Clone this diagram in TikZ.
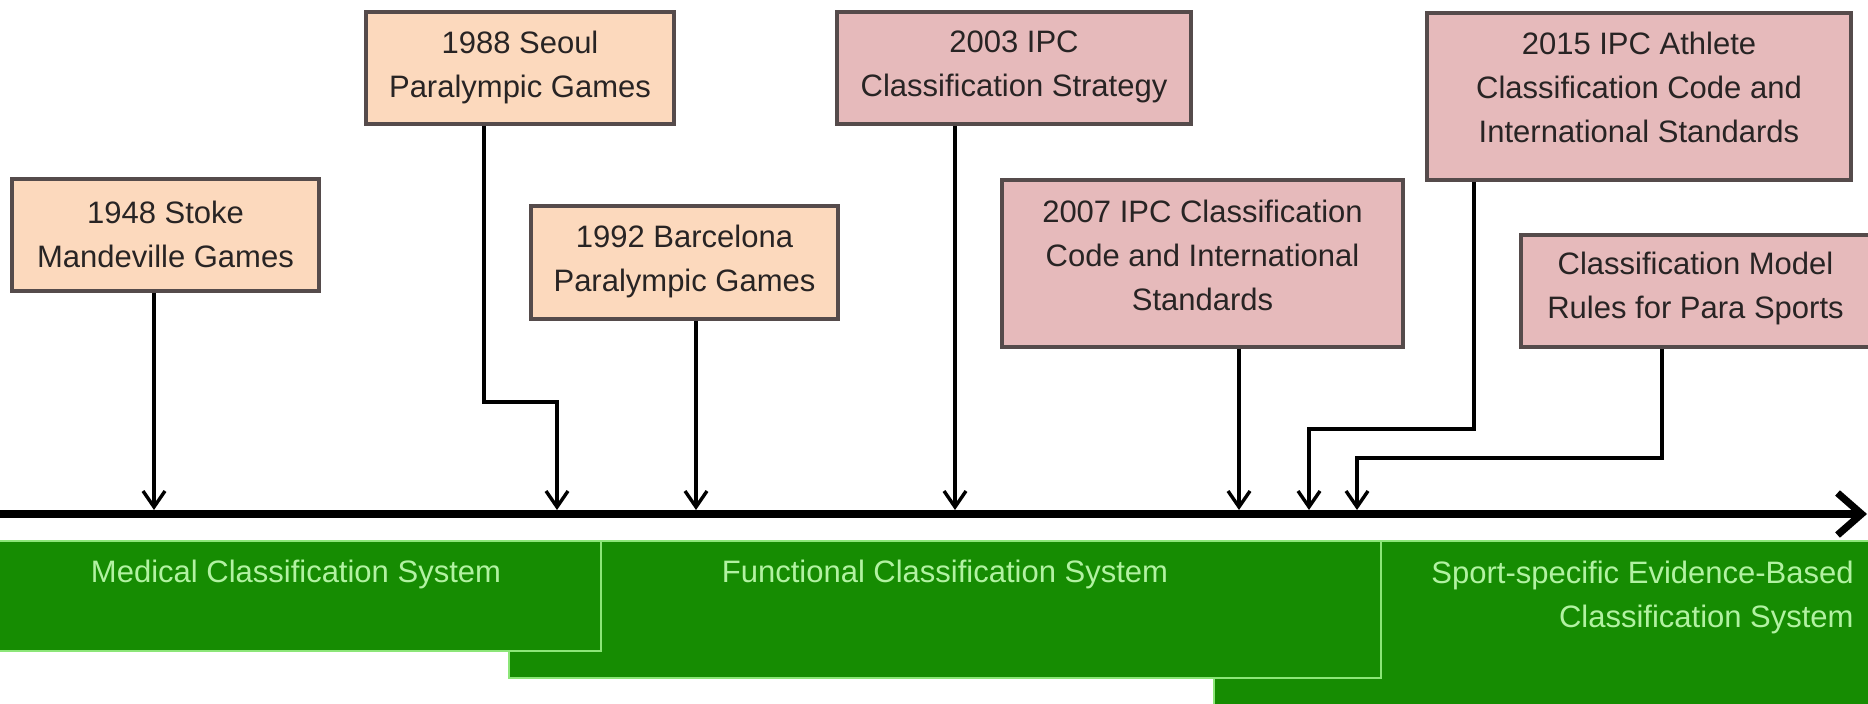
\documentclass[tikz,border=0pt]{standalone}
\usepackage{fontspec}
\setmainfont{Liberation Sans}
\usetikzlibrary{arrows.meta}
\definecolor{peach}{RGB}{252,217,189}
\definecolor{rose}{RGB}{230,186,187}
\definecolor{boxline}{RGB}{85,75,75}
\definecolor{band}{RGB}{22,140,2}
\definecolor{bandline}{RGB}{140,230,120}
\definecolor{bandtext}{RGB}{178,242,162}
\definecolor{txt}{RGB}{40,36,36}
\begin{document}
\begin{tikzpicture}[x=0.5pt,y=-0.5pt,
  box/.style={draw=boxline, line width=1.8pt, inner sep=0pt},
  peachbox/.style={box, fill=peach},
  rosebox/.style={box, fill=rose},
  boxtext/.style={align=center, font=\fontsize{15.5}{22}\selectfont, text=txt, inner sep=0pt},
  bandtxt/.style={font=\fontsize{15.5}{22}\selectfont, text=bandtext, inner sep=0pt},
  bandbox/.style={fill=band, draw=bandline, line width=1pt},
  conn/.style={line width=1.7pt, -{Straight Barb[length=8pt,width=11pt]}},
  timeline/.style={line width=3.6pt, -{Straight Barb[length=12pt,width=21pt]}}
]
\useasboundingbox (0,0) rectangle (1868,704);

% green bands
\path[bandbox] (1214,541) rectangle (1874,710);
\path[bandbox] (509,541) rectangle (1381,678);
\path[bandbox] (-4,541) rectangle (601,651);
\node[bandtxt] (med) at (296,574) {Medical Classification System};
\node[bandtxt] (fun) at (945,574) {Functional Classification System};
\node[bandtxt, align=right, anchor=east] (spo) at (1854,597) {Sport-specific Evidence-Based\\Classification System};

% boxes
\node[peachbox, minimum width=153.5pt, minimum height=56pt] (b1948) at (165.5,235) {};
\node[boxtext] (x1948) at (165.5,234) {1948 Stoke\\Mandeville Games};
\node[peachbox, minimum width=154pt, minimum height=56pt] (b1988) at (520,68) {};
\node[boxtext] (x1988) at (520,67) {1988 Seoul\\Paralympic Games};
\node[peachbox, minimum width=153.5pt, minimum height=56.5pt] (b1992) at (684.5,262.5) {};
\node[boxtext] (x1992) at (684.5,261) {1992 Barcelona\\Paralympic Games};
\node[rosebox, minimum width=177pt, minimum height=56pt] (b2003) at (1014,68) {};
\node[boxtext] (x2003) at (1014,67) {2003 IPC\\Classification Strategy};
\node[rosebox, minimum width=200.5pt, minimum height=83.5pt] (b2007) at (1202.5,263.5) {};
\node[boxtext] (x2007) at (1202.5,255) {2007 IPC Classification\\Code and International\\Standards};
\node[rosebox, minimum width=212pt, minimum height=83.5pt] (b2015) at (1639,96.5) {};
\node[boxtext] (x2015) at (1639,87) {2015 IPC Athlete\\Classification Code and\\International Standards};
\node[rosebox, minimum width=174.5pt, minimum height=56pt] (bmod) at (1695.5,291) {};
\node[boxtext] (xmod) at (1695.5,288) {Classification Model\\Rules for Para Sports};

% timeline
\coordinate (tl0) at (0,514);
\coordinate (tl1) at (1867,514);
\draw[timeline] (tl0) -- (tl1);

% connector ends
\coordinate (t1948) at (154,510);
\coordinate (k1988) at (484,402);
\coordinate (t1988) at (557,510);
\coordinate (t1992) at (696,510);
\coordinate (t2003) at (955,510);
\coordinate (t2007) at (1239,510);
\coordinate (k2015) at (1474,429);
\coordinate (t2015) at (1309,510);
\coordinate (kmod) at (1662,458);
\coordinate (tmod) at (1357,510);

\draw[conn] (b1948.south -| t1948) -- (t1948);
\draw[conn] (b1988.south -| k1988) -- (k1988) -| (t1988);
\draw[conn] (b1992.south -| t1992) -- (t1992);
\draw[conn] (b2003.south -| t2003) -- (t2003);
\draw[conn] (b2007.south -| t2007) -- (t2007);
\draw[conn] (b2015.south -| k2015) -- (k2015) -| (t2015);
\draw[conn] (bmod.south -| kmod) -- (kmod) -| (tmod);
\end{tikzpicture}
\end{document}
